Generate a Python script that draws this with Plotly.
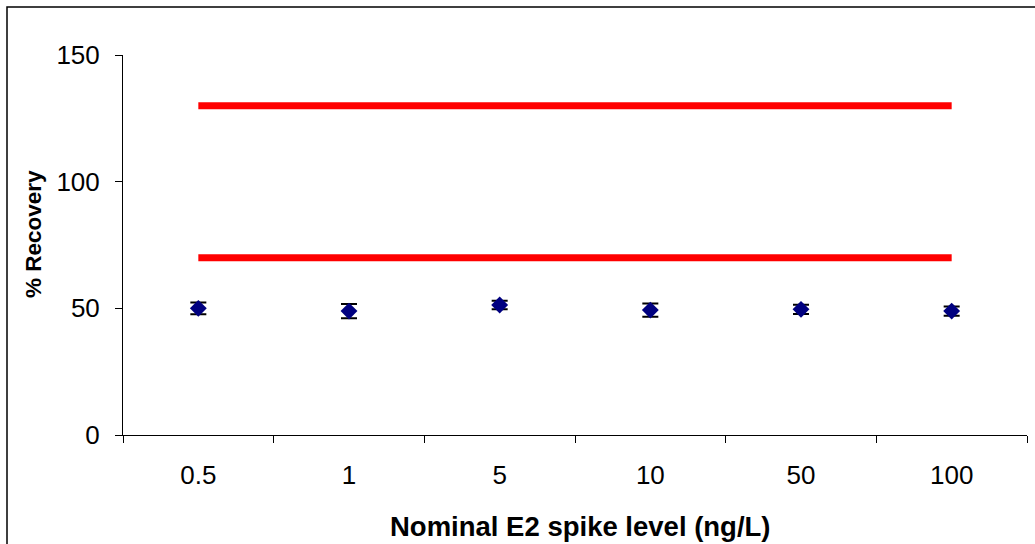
import plotly.graph_objects as go

categories = ["0.5", "1", "5", "10", "50", "100"]
recovery = [50.0, 48.9, 51.3, 49.3, 49.6, 48.9]
errors = [2.3, 2.8, 1.7, 2.6, 1.8, 1.8]
upper_limit = [130, 130]
lower_limit = [70, 70]
limit_x = [categories[0], categories[-1]]

fig = go.Figure()
fig.add_trace(go.Scatter(x=limit_x, y=upper_limit, mode="lines",
                         line=dict(color="#FF0000", width=7), hoverinfo="skip"))
fig.add_trace(go.Scatter(x=limit_x, y=lower_limit, mode="lines",
                         line=dict(color="#FF0000", width=7), hoverinfo="skip"))
fig.add_trace(go.Scatter(x=categories, y=recovery, mode="markers",
                         marker=dict(symbol="diamond", size=13, color="#000080",
                                     line=dict(color="#000080", width=0)),
                         error_y=dict(type="data", array=errors, color="black",
                                      thickness=2, width=8)))

W, H = 1035, 544
L, R, T, B = 123, 8, 55, 109
pw, ph = W - L - R, H - T - B

fig.update_layout(
    width=W, height=H,
    margin=dict(l=L, r=R, t=T, b=B),
    paper_bgcolor="white", plot_bgcolor="white",
    showlegend=False,
    font=dict(family="Liberation Sans, Arial, sans-serif", size=26, color="black"),
    xaxis=dict(type="category", categoryorder="array", categoryarray=categories,
               range=[-0.5, 5.5], showgrid=False, zeroline=False,
               showline=True, linecolor="black", linewidth=1,
               ticks="outside", tickson="boundaries", ticklen=7, tickcolor="black",
               tickfont=dict(size=26), ticklabelstandoff=17),
    yaxis=dict(range=[0, 150], tickvals=[0, 50, 100, 150], showgrid=False,
               zeroline=False, showline=True, linecolor="black", linewidth=1,
               ticks="outside", ticklen=7, tickcolor="black",
               tickfont=dict(size=26), ticklabelstandoff=10),
    annotations=[
        dict(text="<b>Nominal E2 spike level (ng/L)</b>", xref="paper", yref="paper",
             x=(580 - L) / pw, y=(H - B - 526) / ph, xanchor="center", yanchor="middle",
             showarrow=False, font=dict(size=27.5)),
        dict(text="<b>% Recovery</b>", xref="paper", yref="paper",
             x=(33 - L) / pw, y=(H - B - 234) / ph, xanchor="center", yanchor="middle",
             textangle=-90, showarrow=False, font=dict(size=22.5)),
    ],
    shapes=[
        dict(type="rect", xref="paper", yref="paper",
             x0=(7 - L) / pw, x1=1.1, y0=-0.5, y1=(H - B - 7) / ph,
             line=dict(color="black", width=1.5), fillcolor="rgba(0,0,0,0)", layer="below"),
    ],
)

fig.write_html("out.html")
